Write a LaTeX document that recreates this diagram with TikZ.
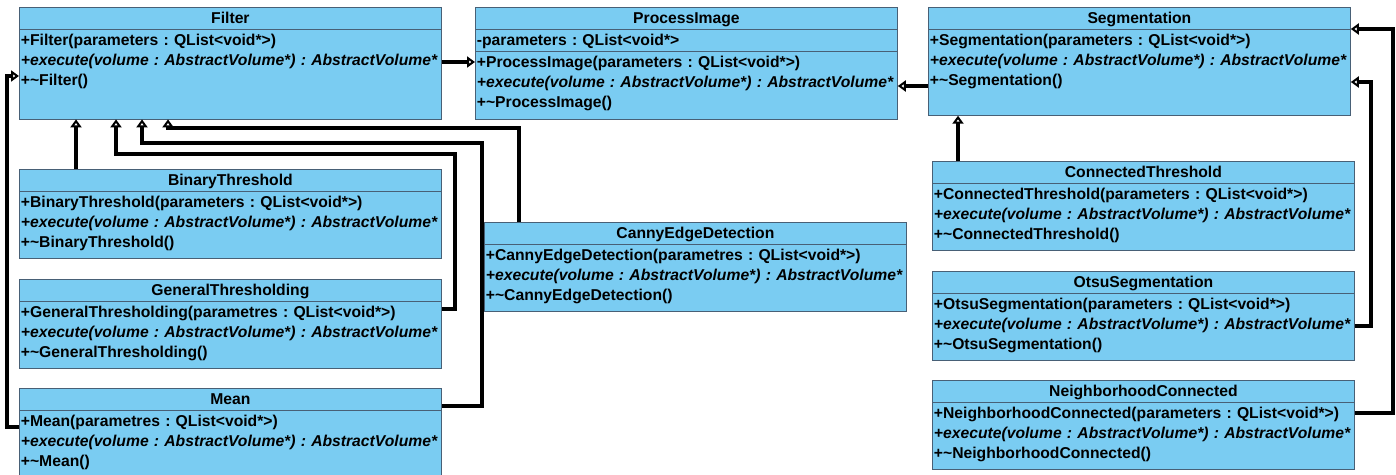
\documentclass[tikz,border=0pt]{standalone}
\usepackage{fontspec}
\setmainfont{Liberation Sans}
\usetikzlibrary{positioning,shapes.multipart,arrows.meta}

\definecolor{classblue}{RGB}{122,204,242}
\definecolor{classline}{RGB}{72,96,118}

\newcommand{\classtitle}[1]{\hbox to\hsize{\rule[-3pt]{0pt}{17pt}\hss#1\hss}}
\newcommand{\classrow}[1]{\rule[-3pt]{0pt}{17pt}#1}
\newcommand{\classexec}{\mbox{\itshape +execute(volume : AbstractVolume*) : AbstractVolume*}}
\newcommand{\classend}[1]{\rule[-#1]{0pt}{1pt}}

\tikzset{
  umlclass/.style={rectangle split, rectangle split parts=2, draw=classline, line width=0.8pt,
    fill=classblue, anchor=north west, text width=419pt, inner xsep=1.5pt, inner ysep=2pt,
    align=left, font=\frenchspacing\bfseries\fontsize{15.7}{20}\selectfont},
  inherit/.style={line width=3.5pt, -{Triangle[open,length=8pt,width=11pt,line width=2.4pt]}},
}

\begin{document}
\begin{tikzpicture}[x=1pt,y=-1pt]
\useasboundingbox (0,0) rectangle (1396,474);

\node[umlclass] (filter) at (19,7) {\classtitle{Filter}
  \nodepart{second}\strut+Filter(parameters : QList<void*>)\\
  \classexec\\
  +\textasciitilde Filter()\classend{31pt}};
\node[umlclass, rectangle split parts=3] (process) at (475,7) {\classtitle{ProcessImage}
  \nodepart{second}\classrow{-parameters : QList<void*>}
  \nodepart{third}\strut+ProcessImage(parameters : QList<void*>)\\
  \classexec\\
  +\textasciitilde ProcessImage()\classend{9pt}};
\node[umlclass] (seg) at (928,7) {\classtitle{Segmentation}
  \nodepart{second}\strut+Segmentation(parameters : QList<void*>)\\
  \classexec\\
  +\textasciitilde Segmentation()\classend{27pt}};

\node[umlclass] (binary) at (19,169) {\classtitle{BinaryThreshold}
  \nodepart{second}\strut+BinaryThreshold(parameters : QList<void*>)\\
  \classexec\\
  +\textasciitilde BinaryThreshold()\classend{8pt}};
\node[umlclass] (general) at (19,279) {\classtitle{GeneralThresholding}
  \nodepart{second}\strut+GeneralThresholding(parametres : QList<void*>)\\
  \classexec\\
  +\textasciitilde GeneralThresholding()\classend{8pt}};
\node[umlclass] (mean) at (19,388) {\classtitle{Mean}
  \nodepart{second}\strut+Mean(parametres : QList<void*>)\\
  \classexec\\
  +\textasciitilde Mean()\classend{8pt}};

\node[umlclass] (canny) at (484,222) {\classtitle{CannyEdgeDetection}
  \nodepart{second}\strut+CannyEdgeDetection(parametres : QList<void*>)\\
  \classexec\\
  +\textasciitilde CannyEdgeDetection()\classend{8pt}};

\node[umlclass] (connected) at (932,161) {\classtitle{ConnectedThreshold}
  \nodepart{second}\strut+ConnectedThreshold(parameters : QList<void*>)\\
  \classexec\\
  +\textasciitilde ConnectedThreshold()\classend{8pt}};
\node[umlclass] (otsu) at (932,271) {\classtitle{OtsuSegmentation}
  \nodepart{second}\strut+OtsuSegmentation(parameters : QList<void*>)\\
  \classexec\\
  +\textasciitilde OtsuSegmentation()\classend{8pt}};
\node[umlclass] (neighbor) at (932,380) {\classtitle{NeighborhoodConnected}
  \nodepart{second}\strut+NeighborhoodConnected(parameters : QList<void*>)\\
  \classexec\\
  +\textasciitilde NeighborhoodConnected()\classend{8pt}};

% generalisations
\draw[inherit] ([yshift=-55pt]filter.north east) -- ([yshift=-55pt]filter.north east -| process.west);
\draw[inherit] ([yshift=-79pt]seg.north west) -- ([yshift=-79pt]seg.north west -| process.east);

\draw[inherit] ([xshift=57pt]binary.north west) -- ([xshift=57pt]filter.south west);
\draw[inherit] ([yshift=-30pt]general.north east) -- ++(13,0) -- ++(0,-155) -| ([xshift=97pt]filter.south west);
\draw[inherit] ([yshift=-18pt]mean.north east) -- ++(40,0) -- ++(0,-263) -| ([xshift=123pt]filter.south west);
\draw[inherit] ([xshift=35pt]canny.north west) -- ++(0,-94) -| ([xshift=149pt]filter.south west);
\draw[inherit] ([yshift=-39pt]mean.north west) -- ++(-12,0) |- ([yshift=-69pt]filter.north west);

\draw[inherit] ([xshift=26pt]connected.north west) -- ([xshift=26pt]connected.north west |- seg.south);
\draw[inherit] ([yshift=-55pt]otsu.north east) -- ++(16,0) |- ([yshift=-75pt]seg.north east);
\draw[inherit] ([yshift=-33pt]neighbor.north east) -- ++(38,0) |- ([yshift=-22pt]seg.north east);

\end{tikzpicture}
\end{document}
